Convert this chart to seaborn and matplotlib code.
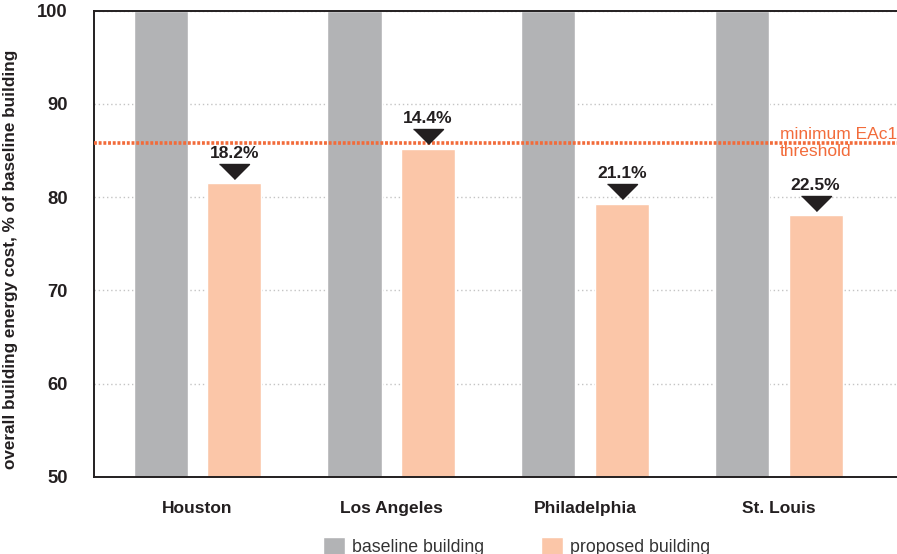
import pandas as pd
import numpy as np
import matplotlib
matplotlib.use("Agg")
import matplotlib.pyplot as plt
from matplotlib.transforms import offset_copy
import seaborn as sns

# data
cities = ["Houston", "Los Angeles", "Philadelphia", "St. Louis"]
baseline = [100, 100, 100, 100]
proposed = [81.5, 85.2, 79.3, 78.1]
savings_labels = ["18.2%", "14.4%", "21.1%", "22.5%"]
threshold = 85.8
yticks = [50, 60, 70, 80, 90, 100]

df = pd.DataFrame({
    "city": cities * 2,
    "building": ["baseline building"] * 4 + ["proposed building"] * 4,
    "value": baseline + proposed,
})

sns.set_style("white")
plt.rcParams["font.family"] = ["Liberation Sans", "DejaVu Sans"]

dark = "#231f20"
gray = "#b2b3b5"
salmon = "#fbc6a8"
orange = "#f26b3a"

fig = plt.figure(figsize=(8.97, 5.54), dpi=100)
ax = fig.add_axes([0.1048, 0.139, 0.8952, 0.842])

sns.barplot(data=df, x="city", y="value", hue="building", order=cities,
            palette=[gray, salmon], width=0.759, gap=0.264, saturation=1,
            ax=ax, zorder=2)

ax.set_ylim(50, 100)
ax.set_xlim(-0.534, 3.61)
ax.set_yticks(yticks)
ax.yaxis.grid(True, linestyle=(0, (1, 2)), color="#c4c4c4", linewidth=1)
ax.set_axisbelow(True)

for s in ["left", "top", "bottom"]:
    ax.spines[s].set_color(dark)
    ax.spines[s].set_linewidth(1.4)
ax.spines["right"].set_visible(False)

ax.tick_params(axis="both", length=0, labelsize=12.5, colors=dark)
ax.tick_params(axis="y", pad=19, labelsize=13.2)
ax.tick_params(axis="x", pad=17)
for lab in ax.get_xticklabels() + ax.get_yticklabels():
    lab.set_fontweight("bold")
ax.set_xlabel("")
ax.set_ylabel("overall building energy cost, % of baseline building",
              fontsize=12.3, fontweight="bold", color=dark)
ax.yaxis.set_label_coords(-0.095, 0.466)

# threshold line
ax.axhline(threshold, color=orange, linestyle=(0, (0.8, 0.5)), linewidth=2.6,
           zorder=5)
ax.text(0.854, threshold, "minimum EAc1\nthreshold", color=orange,
        fontsize=12.5, va="center", ha="left", linespacing=1.15,
        transform=ax.get_yaxis_transform(), zorder=6)

# savings markers above the proposed bars
slot = 0.759 / 2
xs = np.arange(len(cities)) + slot / 2
tri = offset_copy(ax.transData, fig=fig, x=0, y=3, units="points")
ax.plot(xs, proposed, linestyle="none", marker=[(-1, 1), (1, 1), (0, 0)],
        markersize=21.6, color=dark, transform=tri, zorder=6, clip_on=False)
for x, v, lab in zip(xs, proposed, savings_labels):
    ax.annotate(lab, (x, v), xytext=(0, 16), textcoords="offset points",
                ha="center", va="bottom", fontsize=12.6, fontweight="bold",
                color=dark, zorder=6)

sns.move_legend(ax, "lower center", bbox_to_anchor=(0.576, -0.032),
                bbox_transform=fig.transFigure, ncol=2, frameon=False,
                title=None, fontsize=12.8, handlelength=1.22,
                handleheight=1.22, handletextpad=0.4, columnspacing=3.2)
for t in ax.get_legend().get_texts():
    t.set_color("#333333")

fig.savefig("out.png", dpi=100)
